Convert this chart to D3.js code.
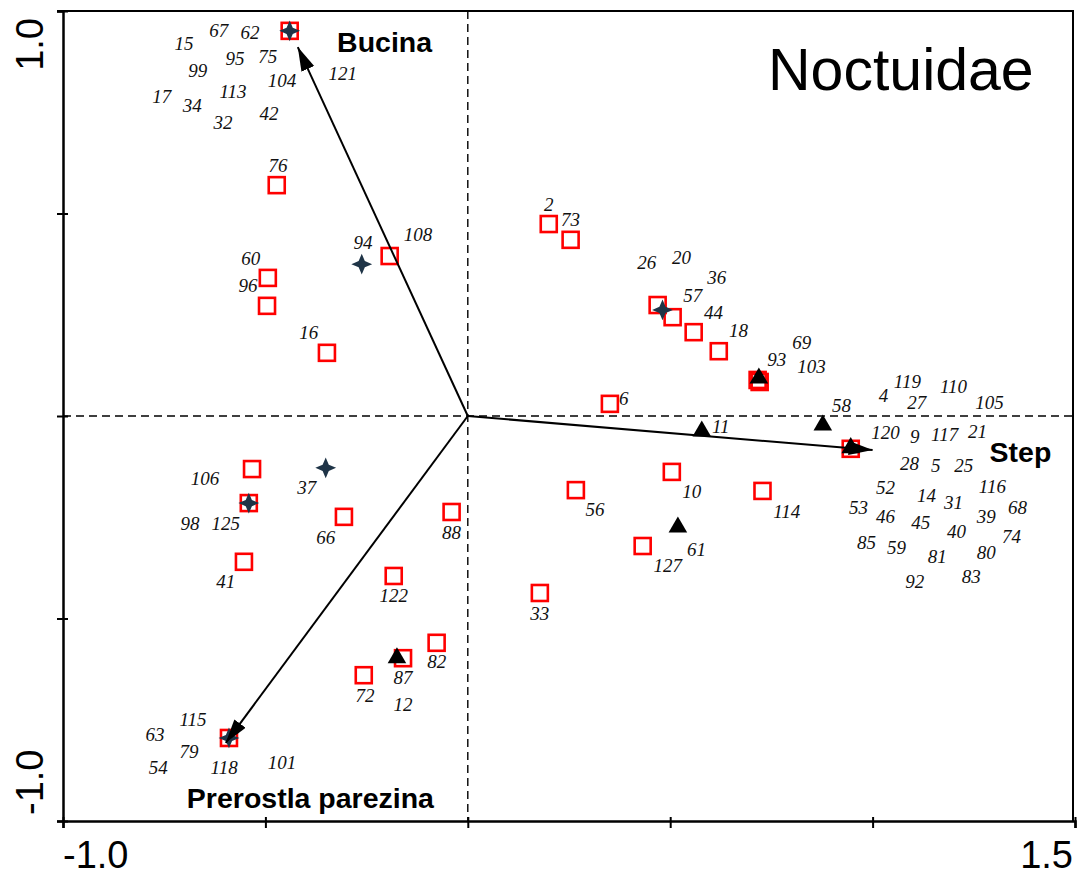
<!DOCTYPE html>
<html>
<head>
<meta charset="utf-8">
<script src="https://cdn.jsdelivr.net/npm/d3@7"></script>
<style>
body { margin: 0; background: #fff; }
svg { display: block; }
.spp { font-family: "Liberation Serif", "Times New Roman", serif; font-style: italic; font-size: 19px; fill: #111; }
.env { font-family: "Liberation Sans", Arial, sans-serif; font-weight: bold; font-size: 28.5px; }
.tickLabel { font-family: "Liberation Sans", Arial, sans-serif; font-size: 38px; }
.title { font-family: "Liberation Sans", Arial, sans-serif; font-size: 59px; }
</style>
</head>
<body>
<svg id="ordination" width="1078" height="875"></svg>
<script>
// site scores (axis 1, axis 2), by habitat group
let squareSites = [
    [-0.440, 0.951], [-0.472, 0.570], [-0.193, 0.395], [-0.494, 0.341], [-0.496, 0.272],
    [-0.348, 0.156], [-0.533, -0.131], [-0.541, -0.215], [-0.306, -0.249], [-0.553, -0.360],
    [-0.040, -0.237], [-0.183, -0.395], [-0.077, -0.560], [-0.160, -0.598], [-0.257, -0.640],
    [-0.590, -0.795], [0.200, 0.474], [0.254, 0.435], [0.469, 0.274], [0.506, 0.244],
    [0.558, 0.207], [0.620, 0.160], [0.716, 0.089], [0.721, 0.084], [0.351, 0.030],
    [0.504, -0.138], [0.267, -0.183], [0.728, -0.185], [0.432, -0.321], [0.178, -0.437],
    [0.946, -0.081]
];
let triangleSites = [
    [0.719, 0.091], [0.578, -0.040], [0.519, -0.277], [0.877, -0.025], [0.946, -0.081],
    [-0.175, -0.600]
];
let starSites = [
    [-0.440, 0.951], [-0.262, 0.375], [-0.351, -0.128], [-0.541, -0.215], [0.481, 0.262],
    [-0.590, -0.795]
];

// species numbers: [label, x, y]
let speciesLabels = [
    ["67", -0.615, 0.951], ["62", -0.538, 0.946], ["15", -0.701, 0.919], ["95", -0.575, 0.881],
    ["75", -0.494, 0.886], ["99", -0.667, 0.852], ["104", -0.459, 0.827], ["121", -0.309, 0.844],
    ["17", -0.756, 0.788], ["34", -0.681, 0.765], ["113", -0.580, 0.800], ["42", -0.491, 0.746],
    ["32", -0.605, 0.723], ["76", -0.469, 0.617], ["94", -0.259, 0.427], ["108", -0.123, 0.447],
    ["60", -0.536, 0.388], ["96", -0.543, 0.321], ["16", -0.393, 0.205], ["106", -0.649, -0.156],
    ["37", -0.398, -0.178], ["98", -0.686, -0.267], ["125", -0.598, -0.267], ["66", -0.351, -0.301],
    ["88", -0.040, -0.289], ["41", -0.598, -0.410], ["122", -0.183, -0.444], ["82", -0.077, -0.607],
    ["87", -0.160, -0.647], ["72", -0.254, -0.691], ["12", -0.160, -0.714], ["115", -0.679, -0.751],
    ["63", -0.773, -0.788], ["79", -0.689, -0.830], ["54", -0.765, -0.869], ["118", -0.602, -0.869],
    ["101", -0.459, -0.857], ["2", 0.200, 0.521], ["73", 0.254, 0.484], ["26", 0.442, 0.378],
    ["20", 0.528, 0.390], ["36", 0.615, 0.341], ["57", 0.556, 0.296], ["44", 0.607, 0.254],
    ["18", 0.669, 0.210], ["69", 0.825, 0.180], ["93", 0.763, 0.138], ["103", 0.849, 0.121],
    ["6", 0.385, 0.042], ["11", 0.625, -0.027], ["10", 0.553, -0.188], ["56", 0.314, -0.232],
    ["114", 0.788, -0.237], ["61", 0.565, -0.331], ["127", 0.494, -0.370], ["33", 0.178, -0.489],
    ["119", 1.086, 0.084], ["4", 1.027, 0.049], ["110", 1.200, 0.072], ["27", 1.109, 0.032],
    ["105", 1.289, 0.032], ["58", 0.923, 0.025], ["120", 1.032, -0.042], ["9", 1.104, -0.052],
    ["117", 1.178, -0.047], ["21", 1.259, -0.040], ["28", 1.091, -0.119], ["5", 1.156, -0.123],
    ["25", 1.225, -0.123], ["52", 1.032, -0.178], ["116", 1.296, -0.175], ["14", 1.133, -0.198],
    ["31", 1.200, -0.215], ["53", 0.965, -0.227], ["68", 1.358, -0.227], ["46", 1.032, -0.249],
    ["39", 1.281, -0.249], ["45", 1.119, -0.264], ["40", 1.207, -0.286], ["74", 1.343, -0.299],
    ["85", 0.985, -0.314], ["59", 1.059, -0.326], ["81", 1.160, -0.348], ["80", 1.281, -0.338],
    ["83", 1.244, -0.398], ["92", 1.104, -0.410]
];

// environmental vectors: name, arrow tip, label start (baseline)
let envNames = ["Bucina", "Step", "Prerostla parezina"];
let envTips = [[-0.420, 0.911], [1.000, -0.084], [-0.598, -0.807]];
let envLabelPos = [[-0.323, 0.899], [1.289, -0.114], [-0.694, -0.968]];

let xDomain = [-1.0, 1.5];
let yDomain = [-1.0, 1.0];
let ticksX = [-1.0, -0.5, 0, 0.5, 1.0, 1.5];
let ticksY = [-1.0, -0.5, 0, 0.5, 1.0];

let svg = d3.select("#ordination");

let x = d3.scaleLinear().domain(xDomain).range([63, 1075]);
let y = d3.scaleLinear().domain(yDomain).range([821, 11]);

// zero lines
svg.append("line")
    .attr("x1", x(-1)).attr("x2", x(1.5) - 2)
    .attr("y1", y(0)).attr("y2", y(0))
    .attr("stroke", "#000").attr("stroke-width", 1.4).attr("stroke-dasharray", "8,5");
svg.append("line")
    .attr("x1", x(0)).attr("x2", x(0))
    .attr("y1", y(1)).attr("y2", y(-1))
    .attr("stroke", "#000").attr("stroke-width", 1.4).attr("stroke-dasharray", "8,5");

// frame (top + right)
svg.append("path")
    .attr("d", "M" + (x(-1) - 6) + "," + y(1) + "H" + (x(1.5) - 2) + "V" + y(-1))
    .attr("fill", "none").attr("stroke", "#000").attr("stroke-width", 2);

// axes
let yAxis = d3.axisLeft(y).tickValues(ticksY).tickFormat("").tickSize(6);
let gy = svg.append("g").attr("class", "axis")
    .attr("transform", "translate(" + x(-1) + ",0)")
    .call(yAxis);
gy.select(".domain").attr("stroke-width", 2.5);
gy.selectAll(".tick line").attr("x1", 5).attr("stroke-width", 2);

let xAxis = d3.axisBottom(x).tickValues(ticksX).tickFormat("").tickSize(7);
let gx = svg.append("g").attr("class", "axis")
    .attr("transform", "translate(0," + y(-1) + ")")
    .call(xAxis);
gx.select(".domain").attr("stroke-width", 2.5);
gx.selectAll(".tick line").attr("y1", -4).attr("stroke-width", 2);

// only the end values are labelled
svg.append("text").attr("class", "tickLabel")
    .attr("x", x(-1)).attr("y", 868).text("-1.0");
svg.append("text").attr("class", "tickLabel").attr("text-anchor", "end")
    .attr("x", x(1.5) - 2).attr("y", 868).text("1.5");
svg.append("text").attr("class", "tickLabel").attr("text-anchor", "end")
    .attr("transform", "translate(43," + (y(1) + 7) + ") rotate(-90)").text("1.0");
svg.append("text").attr("class", "tickLabel")
    .attr("transform", "translate(43," + (y(-1) - 6) + ") rotate(-90)").text("-1.0");

// 4-point star symbol
let star4 = {
    draw(context, size) {
        let r = Math.sqrt(size) * 0.6;
        let ri = r * 0.42;
        for (let i = 0; i < 8; i++) {
            let a = i * Math.PI / 4 - Math.PI / 2;
            let rr = (i % 2 === 0) ? r : ri;
            if (i === 0) context.moveTo(rr * Math.cos(a), rr * Math.sin(a));
            else context.lineTo(rr * Math.cos(a), rr * Math.sin(a));
        }
        context.closePath();
    }
};

// red open squares
svg.append("g").selectAll("rect")
    .data(squareSites)
    .enter().append("rect")
    .attr("x", d => x(d[0]) - 8)
    .attr("y", d => y(d[1]) - 8)
    .attr("width", 16).attr("height", 16)
    .attr("fill", "none")
    .attr("stroke", "#ff0000")
    .attr("stroke-width", 2.6);

// black triangles
svg.append("g").selectAll("path")
    .data(triangleSites)
    .enter().append("path")
    .attr("d", d3.symbol().type(d3.symbolTriangle).size(150))
    .attr("transform", d => "translate(" + x(d[0]) + "," + (y(d[1]) - 1) + ")")
    .attr("fill", "#000");

// dark stars
svg.append("g").selectAll("path")
    .data(starSites)
    .enter().append("path")
    .attr("d", d3.symbol().type(star4).size(300))
    .attr("transform", d => "translate(" + x(d[0]) + "," + y(d[1]) + ")")
    .attr("fill", "#1f3447");

// species numbers
svg.append("g").selectAll("text")
    .data(speciesLabels)
    .enter().append("text")
    .attr("class", "spp")
    .attr("text-anchor", "middle")
    .attr("x", d => x(d[1]))
    .attr("y", d => y(d[2]) + 6)
    .text(d => d[0]);

// environmental arrows
svg.append("defs").append("marker")
    .attr("id", "head")
    .attr("markerUnits", "userSpaceOnUse")
    .attr("markerWidth", 26).attr("markerHeight", 16)
    .attr("refX", 24).attr("refY", 7)
    .attr("orient", "auto")
    .append("path")
    .attr("d", "M0,0L24,7L0,14Z")
    .attr("fill", "#000");

svg.append("g").selectAll("line")
    .data(envTips)
    .enter().append("line")
    .attr("x1", x(0)).attr("y1", y(0))
    .attr("x2", d => x(d[0])).attr("y2", d => y(d[1]))
    .attr("stroke", "#000").attr("stroke-width", 2)
    .attr("marker-end", "url(#head)");

svg.append("g").selectAll("text")
    .data(envNames)
    .enter().append("text")
    .attr("class", "env")
    .attr("x", (d, i) => x(envLabelPos[i][0]))
    .attr("y", (d, i) => y(envLabelPos[i][1]))
    .text(d => d);

svg.append("text").attr("class", "title")
    .attr("x", 768).attr("y", 90).text("Noctuidae");
</script>
</body>
</html>
